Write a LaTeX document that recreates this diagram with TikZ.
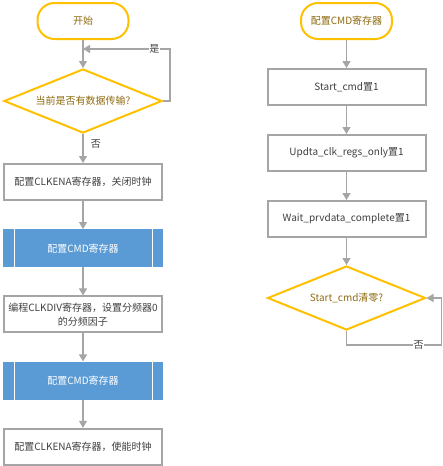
\documentclass[tikz,border=0pt]{standalone}
\usepackage{fontspec}
\setmainfont{Noto Sans CJK SC}
\usepackage{xcolor}
\usetikzlibrary{positioning, arrows.meta, shapes.geometric, calc}

\definecolor{gold}{HTML}{FFC000}
\definecolor{goldtext}{HTML}{8F6A10}
\definecolor{linegray}{HTML}{A5A5A5}
\definecolor{textgray}{HTML}{404040}
\definecolor{cmdblue}{HTML}{5B9BD5}

\begin{document}
\begin{tikzpicture}[
    x=1pt, y=1pt,
    node distance=28pt,
    every node/.style={font=\fontsize{10}{14}\selectfont},
    terminal/.style={
        rectangle,
        draw=gold,
        line width=2pt,
        rounded corners=17pt,
        fill=white,
        text=goldtext,
        minimum width=91pt,
        minimum height=36pt
    },
    decision/.style={
        diamond,
        draw=gold,
        line width=2pt,
        aspect=2.5,
        inner sep=1pt,
        text=goldtext,
        minimum width=158pt,
        minimum height=64pt
    },
    block/.style={
        rectangle,
        draw=linegray,
        line width=2pt,
        fill=white,
        align=center,
        text=textgray,
        minimum width=158pt,
        minimum height=36pt
    },
    cmdbox/.style={
        rectangle,
        fill=cmdblue,
        text=white,
        minimum width=160pt,
        minimum height=38pt,
        path picture={
            \draw[white, line width=0.8pt]
                ([xshift=11pt]path picture bounding box.north west) --
                ([xshift=11pt]path picture bounding box.south west);
            \draw[white, line width=0.8pt]
                ([xshift=-11pt]path picture bounding box.north east) --
                ([xshift=-11pt]path picture bounding box.south east);
        }
    },
    arrow/.style={-{Triangle[width=8pt, length=7pt]}, draw=linegray, line width=1.2pt},
    lbl/.style={text=textgray, fill=white, inner sep=0.5pt}
]
\useasboundingbox (0,0) rectangle (442,-466);

% left column
\node[terminal] (start) at (83,-21) {开始};
\node[decision, below=of start] (ask) {当前是否有数据传输?};
\node[block, below=29pt of ask] (clkoff) {配置CLKENA寄存器，关闭时钟};
\node[cmdbox, below=of clkoff] (cmdA) {配置CMD寄存器};
\node[block, below=of cmdA] (clkdiv) {编程CLKDIV寄存器，设置分频器0\\的分频因子};
\node[cmdbox, below=of clkdiv] (cmdB) {配置CMD寄存器};
\node[block, below=of cmdB] (clkon) {配置CLKENA寄存器，使能时钟};

\coordinate (yesin) at ($(start.south)!0.32!(ask.north)$);

\draw[arrow] (start) -- (ask);
\draw[arrow] (ask) -- node[pos=0.35, right=4pt, text=textgray] {否} (clkoff);
\draw[arrow] (clkoff) -- (cmdA);
\draw[arrow] (cmdA) -- (clkdiv);
\draw[arrow] (clkdiv) -- (cmdB);
\draw[arrow] (cmdB) -- (clkon);
\draw[arrow] (ask.east) -- ++(7pt,0) |- node[pos=0.59, lbl] {是} (yesin);

% right column
\node[terminal] (cmdstart) at (346.5,-21) {配置CMD寄存器};
\node[block, below=of cmdstart] (startcmd) {Start\_cmd置1};
\node[block, below=of startcmd] (updta) {Updta\_clk\_regs\_only置1};
\node[block, below=of updta] (waitprv) {Wait\_prvdata\_complete置1};
\node[decision, below=27pt of waitprv] (chk) {Start\_cmd清零?};

\draw[arrow] (cmdstart) -- (startcmd);
\draw[arrow] (startcmd) -- (updta);
\draw[arrow] (updta) -- (waitprv);
\draw[arrow] (waitprv) -- (chk);
\draw[arrow] (chk.south) -- ++(0,-14pt)
             -- node[pos=0.76, lbl] {否} ++(95pt,0)
             |- (chk.east);

\end{tikzpicture}
\end{document}
